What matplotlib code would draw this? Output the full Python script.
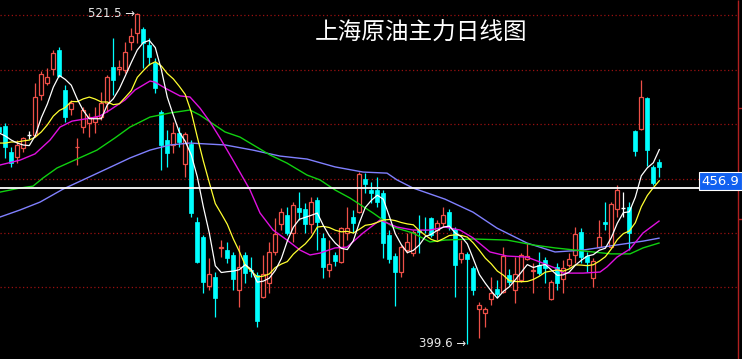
import numpy as np
import pandas as pd
import matplotlib
matplotlib.use("Agg")
import matplotlib.pyplot as plt

plt.rcParams['font.family'] = ['Noto Sans CJK SC', 'DejaVu Sans']

# ---------------- data ----------------
title = "上海原油主力日线图"
high_label = "521.5"
low_label = "399.6"
last_label = "456.9"
last_price = 456.9
hi_price = 521.5
lo_price = 399.6

opens = [
    479.5,
    479.9, 470.3, 468.4, 471.8, 476.6, 476.6, 491.3, 495.8, 500.9, 507.9,
    493.2, 486.2, 472.0, 479.5, 481.0, 481.4, 483.2, 488.4, 501.7, 501.1,
    500.6, 510.9, 514.2, 515.7, 509.8, 503.1, 485.1, 474.7, 472.9, 477.3,
    465.9, 473.3, 444.5, 438.9, 420.8, 424.2, 435.0, 434.1, 432.3, 419.4,
    432.3, 426.9, 424.9, 416.8, 421.9, 433.4, 443.7, 447.0, 440.4, 449.6,
    449.3, 443.7, 452.6, 438.6, 426.7, 432.3, 429.7, 440.4, 446.3, 448.1,
    460.3, 456.3, 456.3, 455.2, 439.7, 431.9, 426.0, 434.1, 433.0, 441.5,
    441.6, 445.9, 441.5, 444.1, 448.1, 441.9, 430.8, 432.7, 427.5, 412.3,
    410.9, 416.0, 419.7, 418.6, 424.9, 419.4, 423.1, 430.8, 426.2, 428.6,
    430.4, 416.0, 427.9, 423.4, 428.6, 432.3, 440.8, 431.9, 423.8, 435.2,
    444.5, 435.2, 449.3, 449.6, 450.0, 478.1, 478.8, 490.2, 464.8, 466.6,
]
highs = [
    480.3,
    481.0, 472.1, 474.7, 475.8, 478.1, 495.8, 500.2, 501.3, 507.9, 509.1,
    495.0, 489.5, 475.5, 486.9, 484.7, 486.9, 492.4, 498.7, 512.4, 504.3,
    510.9, 516.1, 521.5, 516.4, 512.4, 505.0, 485.8, 478.4, 481.4, 479.5,
    477.7, 474.7, 446.3, 439.7, 431.2, 426.0, 437.8, 437.1, 433.4, 436.0,
    433.4, 431.5, 426.0, 432.3, 437.1, 445.9, 449.6, 450.0, 451.8, 455.5,
    451.5, 453.7, 453.7, 440.4, 437.8, 433.4, 442.6, 450.0, 448.9, 462.9,
    462.5, 459.2, 461.1, 456.3, 441.5, 433.0, 436.0, 440.4, 441.5, 447.0,
    446.3, 446.3, 445.2, 450.0, 449.3, 442.6, 437.8, 433.4, 428.2, 414.9,
    413.1, 424.2, 423.1, 435.2, 427.1, 431.5, 433.0, 436.7, 429.3, 433.4,
    431.5, 423.1, 429.3, 430.4, 433.0, 442.6, 442.2, 433.4, 431.2, 445.2,
    451.8, 451.8, 458.1, 455.5, 451.8, 478.4, 496.9, 490.6, 465.5, 467.7,
]
lows = [
    476.6,
    468.1, 464.8, 466.2, 470.3, 475.1, 475.8, 489.5, 495.0, 498.7, 498.0,
    481.4, 483.9, 465.5, 477.3, 475.8, 477.3, 482.1, 485.1, 491.3, 498.7,
    499.5, 507.9, 510.5, 501.3, 502.4, 492.1, 463.7, 464.8, 469.9, 472.1,
    461.1, 446.3, 429.3, 418.3, 419.4, 409.4, 431.5, 429.3, 419.4, 413.1,
    421.9, 424.2, 405.7, 416.4, 418.3, 432.3, 441.5, 439.7, 437.1, 445.2,
    440.4, 440.4, 434.1, 423.8, 424.2, 428.2, 429.3, 437.8, 440.4, 447.8,
    455.2, 451.5, 450.0, 431.2, 429.3, 413.4, 424.2, 433.0, 431.9, 433.0,
    440.4, 438.9, 437.8, 442.6, 441.5, 416.8, 429.3, 399.6, 417.5, 401.6,
    405.7, 413.8, 416.8, 418.3, 421.2, 414.6, 422.3, 430.4, 418.3, 424.9,
    421.9, 415.7, 419.4, 418.3, 427.9, 429.3, 429.3, 426.0, 420.5, 434.9,
    441.5, 434.9, 446.3, 446.3, 434.1, 468.8, 478.4, 465.1, 458.1, 461.1,
]
closes = [
    477.7,
    472.1, 466.2, 472.9, 475.5, 476.6, 490.6, 499.1, 498.0, 506.8, 498.3,
    483.2, 488.4, 472.3, 485.8, 483.2, 483.2, 488.4, 498.0, 496.9, 501.5,
    507.2, 513.1, 521.2, 510.5, 505.4, 493.9, 472.9, 469.9, 477.3, 474.0,
    476.9, 447.8, 429.7, 422.3, 425.3, 416.4, 435.4, 431.2, 423.4, 427.9,
    425.6, 426.5, 407.9, 425.3, 433.4, 440.0, 448.1, 440.4, 450.7, 448.1,
    443.7, 451.8, 444.5, 427.9, 429.0, 430.1, 442.2, 442.2, 444.1, 462.2,
    458.5, 455.2, 451.8, 436.7, 430.8, 426.0, 435.2, 437.1, 440.8, 440.8,
    441.4, 439.7, 444.1, 447.0, 442.6, 428.6, 433.0, 430.8, 419.4, 413.8,
    412.3, 418.3, 417.9, 431.9, 422.3, 425.3, 432.3, 431.9, 426.6, 425.6,
    427.5, 422.3, 421.9, 427.5, 430.8, 440.0, 431.5, 429.7, 430.1, 438.9,
    443.7, 451.1, 456.3, 449.6, 440.4, 470.7, 490.6, 471.0, 458.9, 464.8,
]

# moving-average values before enough bars are visible
ma5_head = [477.3, 476.2, 474.7, 473.6]
ma10_head = [473.6, 473.6, 474.0, 474.0, 474.4, 474.7, 475.8, 477.7, 480.3]

# slower averages (bar index, price)
ma20_idx = [-0.88, 2.45, 4.95, 7.45, 9.12, 11.12, 14.12, 15.78, 17.45, 19.95, 21.62, 24.12, 24.95,
            26.62, 29.12, 30.78, 32.45, 34.12, 35.78, 37.95, 40.78, 42.45, 44.62, 46.95, 49.12,
            50.78, 52.45, 54.95, 56.95, 59.62, 62.45, 65.28, 67.95, 70.78, 73.28, 75.78, 77.95,
            80.78, 83.62, 86.95, 89.12, 91.62, 92.95, 96.28, 99.12, 100.28, 101.95, 104.12,
            106.28, 108.95]
ma20_val = [465.5, 467.3, 469.6, 474.7, 479.5, 481.7, 482.8, 483.6, 485.8, 489.5, 493.2, 496.5, 496.1,
            493.9, 491.0, 490.6, 486.5, 481.4, 475.5, 467.3, 456.3, 447.8, 441.5, 437.8, 434.1,
            432.3, 433.0, 434.9, 435.2, 440.4, 445.2, 442.6, 441.5, 441.5, 442.6, 441.5, 438.6,
            433.4, 431.9, 431.5, 429.7, 427.5, 425.6, 425.6, 426.0, 427.9, 431.5, 434.5,
            440.4, 444.8]
ma40_idx = [-0.88, 2.45, 4.62, 6.28, 8.62, 11.95, 15.28, 18.28, 20.78, 24.12, 27.45, 30.78, 32.45,
            34.12, 36.62, 39.12, 44.12, 46.95, 50.28, 52.45, 54.95, 57.45, 61.28, 64.62, 67.95,
            70.78, 73.28, 77.95, 83.62, 87.95, 91.62, 96.28, 100.95, 104.12, 106.28, 108.95]
ma40_val = [455.5, 457.0, 457.7, 460.7, 464.4, 467.7, 471.0, 475.5, 479.5, 483.2, 484.7, 485.8, 483.9,
            481.4, 477.7, 475.8, 469.2, 466.2, 461.8, 460.0, 456.3, 453.3, 447.8, 442.6, 440.4,
            437.1, 437.8, 438.2, 437.8, 436.0, 434.9, 433.8, 432.7, 432.7, 434.9, 436.7]
ma60_idx = [-0.88, 2.45, 5.78, 9.62, 13.62, 18.28, 20.78, 24.12, 27.45, 30.78, 36.62, 41.28, 45.78,
            50.28, 54.95, 59.62, 63.62, 65.28, 67.95, 73.28, 77.95, 81.95, 86.95, 91.62, 96.28,
            101.95, 106.28, 108.95]
ma60_val = [446.3, 448.9, 451.8, 456.6, 460.7, 465.5, 468.1, 471.0, 472.9, 473.6, 472.9, 471.0, 468.8,
            467.7, 464.8, 462.9, 462.5, 460.0, 457.0, 452.9, 448.1, 442.2, 436.7, 433.4, 434.1,
            436.0, 437.4, 438.5]

grid_levels = [420.4, 440.4, 460.5, 480.6, 500.7, 520.8]
axis_ticks = [445.6, 486.5]

# ---------------- figure ----------------
W, H = 742, 359
fig = plt.figure(figsize=(W / 100, H / 100), dpi=100, facecolor='black')
ax = fig.add_axes([0, 0, 1, 1])
ax.set_facecolor('black')
for s in ax.spines.values():
    s.set_visible(False)
ax.set_xticks([])
ax.set_yticks([])

n = len(closes)
x = np.arange(n) - 1
o = np.array(opens); h = np.array(highs); l = np.array(lows); c = np.array(closes)

ax.set_xlim(-0.883, 122.78)
ax.set_ylim(393.9, 526.4)

RED = '#ee5048'
CYAN = '#00ffff'
GRID = '#9a1010'

for g in grid_levels:
    ax.hlines(g, -0.883, 122.1, colors=GRID, linestyles=(0, (1, 2)), lw=0.9, zorder=1)

# right frame line with small ticks
ax.vlines(122.1, 393.9, 526.4, colors='#b02020', lw=1.0, zorder=1)
for t in axis_ticks:
    ax.hlines(t, 122.1, 122.78, colors='#b02020', lw=1.0, zorder=1)

# candles
up = c > o
down = c < o
flat = c == o
bw = 0.66
ax.vlines(x[up], l[up], h[up], colors=RED, lw=0.9, zorder=2)
ax.vlines(x[down], l[down], h[down], colors=CYAN, lw=0.9, zorder=2)
ax.vlines(x[flat], l[flat], h[flat], colors='white', lw=0.9, zorder=2)
ax.bar(x[up], (c - o)[up], bottom=o[up], width=bw, facecolor='black',
       edgecolor=RED, linewidth=0.9, zorder=3)
ax.bar(x[down], (o - c)[down], bottom=c[down], width=bw, facecolor=CYAN,
       edgecolor=CYAN, linewidth=0.5, zorder=3)
ax.hlines(c[flat], x[flat] - bw / 2, x[flat] + bw / 2, colors='white', lw=1.0, zorder=3)

# moving averages
s = pd.Series(c)
ma5 = s.rolling(5).mean().to_numpy()
ma5[:len(ma5_head)] = ma5_head
ma10 = s.rolling(10).mean().to_numpy()
ma10[:len(ma10_head)] = ma10_head

ax.plot(ma60_idx, ma60_val, color='#8080ff', lw=1.0, zorder=4)
ax.plot(ma40_idx, ma40_val, color='#10d010', lw=1.0, zorder=4)
ax.plot(ma20_idx, ma20_val, color='#e010e0', lw=1.0, zorder=4)
ax.plot(x, ma10, color='#ffff30', lw=0.9, zorder=5)
ax.plot(x, ma5, color='white', lw=0.9, zorder=6)

# last price line and label
ax.hlines(last_price, -0.883, 116.3, colors='white', lw=1.3, zorder=7)
ax.text(119.2, last_price + 0.2, last_label, color='white', fontsize=9.5,
        ha='center', va='bottom', family=['DejaVu Sans'], zorder=8,
        bbox=dict(boxstyle='square,pad=0.18', facecolor='#1060f0', edgecolor='white', lw=0.8))

# extreme labels
i_hi = int(np.argmax(h))
i_lo = int(np.argmin(l))
ax.text(x[i_hi] - 0.4, hi_price, high_label + " \u2192", color='#e8e8e8', fontsize=8.5,
        ha='right', va='center', family=['DejaVu Sans'], zorder=8)
ax.text(x[i_lo] - 0.2, lo_price, low_label + " \u2192", color='#e8e8e8', fontsize=8.5,
        ha='right', va='center', family=['DejaVu Sans'], zorder=8)

# title
fig.text(421 / W, 1 - 33 / H, title, color='white', fontsize=17, ha='center', va='center',
         family=['Noto Sans CJK SC', 'DejaVu Sans'])

fig.savefig('out.png', dpi=100, facecolor='black')
